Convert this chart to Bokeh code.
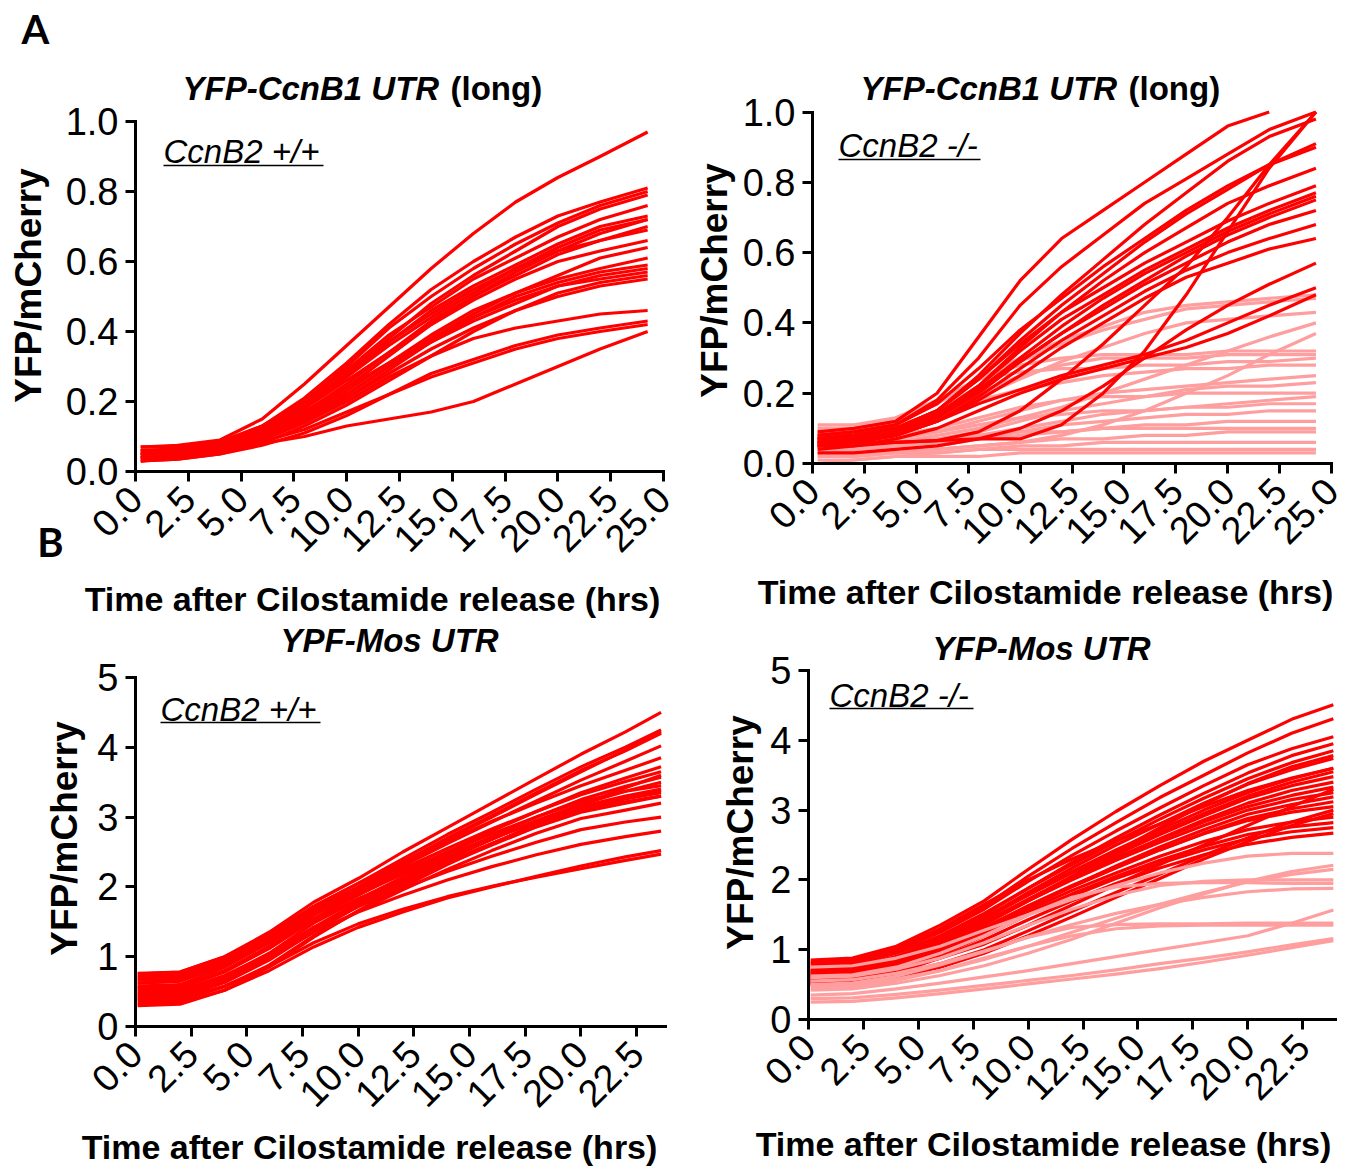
from math import pi
from bokeh.plotting import figure
from bokeh.models import Label, FixedTicker, NumeralTickFormatter, Range1d
from bokeh.layouts import row, column
from bokeh.embed import file_html
from bokeh.resources import INLINE

# ---------------- data ----------------
# Panel A: YFP-CcnB1 UTR (long)
t_ccnb1 = [0.25, 2, 4, 6, 8, 10, 12, 14, 16, 18, 20, 22, 24.25]

ccnb1_wt = [
    [0.07, 0.075, 0.09, 0.15, 0.25, 0.36, 0.47, 0.58, 0.68, 0.77, 0.84, 0.90, 0.97],
    [0.06, 0.065, 0.08, 0.13, 0.21, 0.31, 0.42, 0.52, 0.60, 0.67, 0.73, 0.77, 0.81],
    [0.05, 0.06, 0.08, 0.12, 0.20, 0.30, 0.41, 0.50, 0.58, 0.65, 0.71, 0.76, 0.80],
    [0.04, 0.05, 0.07, 0.11, 0.19, 0.28, 0.38, 0.48, 0.56, 0.63, 0.70, 0.75, 0.79],
    [0.07, 0.07, 0.085, 0.13, 0.20, 0.29, 0.39, 0.47, 0.55, 0.61, 0.67, 0.72, 0.76],
    [0.05, 0.055, 0.07, 0.11, 0.18, 0.27, 0.37, 0.46, 0.53, 0.59, 0.65, 0.70, 0.73],
    [0.06, 0.06, 0.075, 0.12, 0.19, 0.27, 0.36, 0.44, 0.51, 0.58, 0.64, 0.69, 0.72],
    [0.04, 0.045, 0.06, 0.10, 0.16, 0.24, 0.33, 0.42, 0.50, 0.57, 0.63, 0.68, 0.72],
    [0.05, 0.055, 0.07, 0.11, 0.17, 0.25, 0.34, 0.43, 0.50, 0.56, 0.62, 0.66, 0.70],
    [0.06, 0.06, 0.08, 0.12, 0.18, 0.26, 0.34, 0.42, 0.49, 0.55, 0.60, 0.63, 0.66],
    [0.03, 0.04, 0.055, 0.09, 0.15, 0.22, 0.30, 0.38, 0.45, 0.51, 0.56, 0.61, 0.64],
    [0.05, 0.05, 0.065, 0.10, 0.16, 0.23, 0.31, 0.39, 0.46, 0.51, 0.55, 0.58, 0.61],
    [0.04, 0.045, 0.06, 0.095, 0.15, 0.22, 0.30, 0.37, 0.43, 0.48, 0.53, 0.56, 0.58],
    [0.06, 0.06, 0.075, 0.11, 0.17, 0.24, 0.31, 0.38, 0.44, 0.49, 0.53, 0.55, 0.57],
    [0.03, 0.035, 0.05, 0.08, 0.13, 0.19, 0.26, 0.33, 0.40, 0.46, 0.51, 0.54, 0.56],
    [0.05, 0.05, 0.065, 0.10, 0.15, 0.21, 0.28, 0.35, 0.41, 0.46, 0.50, 0.53, 0.55],
    [0.04, 0.045, 0.06, 0.09, 0.14, 0.20, 0.27, 0.33, 0.38, 0.41, 0.43, 0.45, 0.46],
    [0.03, 0.035, 0.05, 0.075, 0.11, 0.16, 0.22, 0.28, 0.32, 0.36, 0.39, 0.41, 0.43],
    [0.05, 0.05, 0.06, 0.085, 0.12, 0.17, 0.22, 0.27, 0.31, 0.35, 0.38, 0.40, 0.42],
    [0.04, 0.04, 0.055, 0.08, 0.10, 0.13, 0.15, 0.17, 0.20, 0.25, 0.30, 0.35, 0.40],
    [0.07, 0.07, 0.085, 0.12, 0.19, 0.28, 0.37, 0.45, 0.52, 0.58, 0.63, 0.66, 0.69],
    [0.03, 0.04, 0.055, 0.09, 0.14, 0.21, 0.29, 0.37, 0.44, 0.50, 0.54, 0.57, 0.59],
]

# lines that leave the top of the plot stop where they reach 1.0
ccnb1_ko_red = [
    [0.09, 0.10, 0.12, 0.20, 0.36, 0.52, 0.64, 0.72, 0.80, 0.88, 0.96, 1.00],
    [0.08, 0.09, 0.11, 0.18, 0.30, 0.45, 0.56, 0.65, 0.74, 0.81, 0.88, 0.95, 1.00],
    [0.07, 0.08, 0.10, 0.15, 0.25, 0.37, 0.48, 0.58, 0.68, 0.77, 0.86, 0.93, 0.98],
    [0.05, 0.05, 0.06, 0.065, 0.09, 0.15, 0.24, 0.34, 0.45, 0.56, 0.70, 0.85, 1.00],
    [0.06, 0.06, 0.06, 0.065, 0.07, 0.07, 0.11, 0.20, 0.32, 0.48, 0.66, 0.84, 1.00],
    [0.07, 0.08, 0.10, 0.15, 0.24, 0.34, 0.43, 0.50, 0.57, 0.63, 0.69, 0.74, 0.79],
    [0.06, 0.07, 0.09, 0.14, 0.22, 0.32, 0.41, 0.48, 0.55, 0.61, 0.67, 0.72, 0.77],
    [0.05, 0.06, 0.08, 0.13, 0.21, 0.30, 0.39, 0.47, 0.54, 0.60, 0.66, 0.71, 0.76],
    [0.06, 0.07, 0.09, 0.13, 0.20, 0.29, 0.37, 0.45, 0.52, 0.59, 0.65, 0.70, 0.75],
    [0.07, 0.08, 0.10, 0.14, 0.21, 0.29, 0.37, 0.44, 0.51, 0.57, 0.63, 0.68, 0.72],
    [0.05, 0.06, 0.08, 0.12, 0.19, 0.27, 0.35, 0.42, 0.49, 0.55, 0.60, 0.64, 0.68],
    [0.06, 0.07, 0.08, 0.12, 0.18, 0.25, 0.33, 0.40, 0.47, 0.53, 0.57, 0.61, 0.64],
    [0.08, 0.09, 0.11, 0.17, 0.27, 0.38, 0.47, 0.56, 0.64, 0.72, 0.79, 0.85, 0.90],
    [0.07, 0.08, 0.10, 0.15, 0.24, 0.35, 0.45, 0.54, 0.63, 0.71, 0.78, 0.85, 0.91],
    [0.06, 0.07, 0.09, 0.14, 0.22, 0.33, 0.43, 0.52, 0.60, 0.67, 0.74, 0.79, 0.84],
    [0.03, 0.03, 0.04, 0.05, 0.07, 0.10, 0.15, 0.22, 0.30, 0.38, 0.45, 0.51, 0.57],
    [0.05, 0.06, 0.08, 0.12, 0.17, 0.21, 0.25, 0.28, 0.31, 0.35, 0.40, 0.45, 0.50],
    [0.04, 0.05, 0.07, 0.10, 0.15, 0.20, 0.24, 0.27, 0.30, 0.33, 0.37, 0.42, 0.48],
]

ccnb1_ko_pink = [
    [0.10, 0.10, 0.12, 0.17, 0.24, 0.30, 0.35, 0.39, 0.43, 0.45, 0.46, 0.47, 0.48],
    [0.08, 0.08, 0.10, 0.15, 0.22, 0.29, 0.34, 0.38, 0.41, 0.44, 0.45, 0.46, 0.47],
    [0.09, 0.09, 0.11, 0.14, 0.19, 0.24, 0.29, 0.33, 0.37, 0.40, 0.41, 0.42, 0.43],
    [0.05, 0.05, 0.06, 0.08, 0.10, 0.13, 0.16, 0.20, 0.24, 0.28, 0.32, 0.36, 0.40],
    [0.02, 0.02, 0.03, 0.04, 0.05, 0.06, 0.08, 0.11, 0.15, 0.20, 0.25, 0.31, 0.37],
    [0.10, 0.10, 0.12, 0.17, 0.24, 0.28, 0.30, 0.31, 0.31, 0.31, 0.32, 0.32, 0.32],
    [0.09, 0.09, 0.10, 0.14, 0.20, 0.25, 0.28, 0.30, 0.30, 0.30, 0.31, 0.31, 0.31],
    [0.11, 0.11, 0.13, 0.18, 0.24, 0.26, 0.27, 0.27, 0.28, 0.28, 0.29, 0.29, 0.30],
    [0.08, 0.08, 0.10, 0.13, 0.18, 0.21, 0.23, 0.25, 0.26, 0.27, 0.27, 0.28, 0.28],
    [0.06, 0.06, 0.07, 0.09, 0.12, 0.15, 0.18, 0.20, 0.21, 0.22, 0.23, 0.24, 0.25],
    [0.05, 0.05, 0.06, 0.07, 0.09, 0.12, 0.15, 0.17, 0.19, 0.21, 0.22, 0.22, 0.23],
    [0.07, 0.07, 0.08, 0.10, 0.13, 0.16, 0.18, 0.19, 0.19, 0.20, 0.20, 0.20, 0.20],
    [0.04, 0.04, 0.05, 0.06, 0.08, 0.10, 0.12, 0.14, 0.15, 0.16, 0.17, 0.18, 0.19],
    [0.06, 0.06, 0.07, 0.09, 0.11, 0.13, 0.14, 0.15, 0.15, 0.16, 0.16, 0.17, 0.17],
    [0.03, 0.03, 0.04, 0.05, 0.07, 0.09, 0.11, 0.12, 0.13, 0.14, 0.14, 0.15, 0.15],
    [0.05, 0.05, 0.06, 0.07, 0.08, 0.09, 0.09, 0.10, 0.10, 0.10, 0.10, 0.10, 0.10],
    [0.02, 0.02, 0.03, 0.04, 0.05, 0.06, 0.07, 0.07, 0.08, 0.08, 0.09, 0.09, 0.09],
    [0.03, 0.03, 0.03, 0.03, 0.04, 0.04, 0.04, 0.04, 0.04, 0.04, 0.04, 0.04, 0.04],
    [0.01, 0.01, 0.02, 0.02, 0.02, 0.03, 0.03, 0.03, 0.03, 0.03, 0.03, 0.03, 0.03],
    [0.00, 0.01, 0.02, 0.03, 0.04, 0.05, 0.05, 0.06, 0.06, 0.06, 0.06, 0.06, 0.06],
    [0.04, 0.04, 0.05, 0.06, 0.07, 0.08, 0.09, 0.10, 0.11, 0.11, 0.12, 0.12, 0.12],
]

# Panel B: YFP-Mos UTR
t_mos_wt = [0.1, 2, 4, 6, 8, 10, 12, 14, 16, 18, 20, 22, 23.6]
t_mos_ko = [0.1, 2, 4, 6, 8, 10, 12, 14, 16, 18, 20, 22, 23.9]

mos_wt = [
    [0.75, 0.78, 1.00, 1.35, 1.78, 2.12, 2.50, 2.85, 3.20, 3.55, 3.90, 4.22, 4.50],
    [0.70, 0.73, 0.95, 1.30, 1.72, 2.05, 2.40, 2.75, 3.07, 3.40, 3.72, 4.00, 4.25],
    [0.62, 0.65, 0.90, 1.25, 1.68, 2.00, 2.35, 2.70, 3.02, 3.35, 3.67, 3.95, 4.20],
    [0.58, 0.60, 0.85, 1.20, 1.62, 1.95, 2.30, 2.62, 2.93, 3.23, 3.53, 3.80, 4.02],
    [0.72, 0.75, 0.98, 1.32, 1.72, 2.05, 2.36, 2.65, 2.94, 3.20, 3.45, 3.67, 3.85],
    [0.52, 0.55, 0.78, 1.12, 1.55, 1.88, 2.20, 2.50, 2.80, 3.08, 3.35, 3.56, 3.72],
    [0.68, 0.70, 0.93, 1.26, 1.66, 1.97, 2.26, 2.55, 2.83, 3.08, 3.32, 3.51, 3.65],
    [0.48, 0.50, 0.72, 1.05, 1.48, 1.82, 2.14, 2.44, 2.72, 3.00, 3.25, 3.44, 3.57],
    [0.44, 0.46, 0.68, 1.00, 1.42, 1.78, 2.10, 2.40, 2.68, 2.95, 3.18, 3.37, 3.50],
    [0.62, 0.65, 0.88, 1.20, 1.60, 1.90, 2.18, 2.45, 2.70, 2.94, 3.15, 3.30, 3.40],
    [0.40, 0.42, 0.63, 0.95, 1.36, 1.72, 2.04, 2.33, 2.60, 2.86, 3.10, 3.26, 3.35],
    [0.56, 0.58, 0.80, 1.12, 1.52, 1.83, 2.10, 2.37, 2.62, 2.86, 3.07, 3.20, 3.30],
    [0.35, 0.37, 0.57, 0.88, 1.30, 1.65, 1.96, 2.25, 2.52, 2.77, 2.98, 3.10, 3.20],
    [0.50, 0.52, 0.73, 1.03, 1.42, 1.72, 1.98, 2.22, 2.44, 2.64, 2.82, 2.93, 3.00],
    [0.46, 0.48, 0.68, 0.98, 1.35, 1.64, 1.88, 2.10, 2.29, 2.46, 2.61, 2.72, 2.80],
    [0.32, 0.34, 0.52, 0.80, 1.14, 1.42, 1.64, 1.84, 2.00, 2.15, 2.30, 2.43, 2.52],
    [0.38, 0.40, 0.58, 0.86, 1.20, 1.47, 1.68, 1.86, 2.01, 2.14, 2.26, 2.38, 2.47],
    [0.66, 0.68, 0.90, 1.22, 1.62, 1.93, 2.22, 2.50, 2.76, 3.00, 3.22, 3.37, 3.45],
    [0.30, 0.32, 0.52, 0.85, 1.28, 1.66, 2.00, 2.32, 2.62, 2.90, 3.17, 3.42, 3.60],
    [0.55, 0.57, 0.80, 1.15, 1.60, 1.97, 2.33, 2.68, 3.00, 3.33, 3.65, 3.96, 4.22],
    [0.76, 0.78, 1.00, 1.30, 1.70, 1.98, 2.23, 2.47, 2.70, 2.92, 3.10, 3.22, 3.30],
    [0.42, 0.44, 0.65, 0.97, 1.38, 1.74, 2.06, 2.35, 2.62, 2.88, 3.12, 3.28, 3.38],
]

mos_ko_red = [
    [0.85, 0.88, 1.05, 1.35, 1.70, 2.15, 2.58, 2.98, 3.35, 3.70, 4.00, 4.30, 4.51],
    [0.80, 0.83, 1.00, 1.28, 1.62, 2.05, 2.45, 2.82, 3.18, 3.50, 3.82, 4.10, 4.31],
    [0.78, 0.80, 0.98, 1.25, 1.58, 1.98, 2.35, 2.70, 3.03, 3.35, 3.65, 3.88, 4.05],
    [0.70, 0.73, 0.90, 1.17, 1.50, 1.88, 2.25, 2.60, 2.93, 3.24, 3.53, 3.78, 3.95],
    [0.75, 0.78, 0.95, 1.20, 1.52, 1.88, 2.22, 2.55, 2.87, 3.17, 3.45, 3.68, 3.85],
    [0.65, 0.68, 0.85, 1.12, 1.45, 1.82, 2.17, 2.50, 2.80, 3.10, 3.37, 3.58, 3.74],
    [0.72, 0.75, 0.90, 1.15, 1.46, 1.80, 2.12, 2.43, 2.72, 3.00, 3.25, 3.45, 3.60],
    [0.60, 0.63, 0.80, 1.05, 1.37, 1.72, 2.05, 2.36, 2.65, 2.92, 3.17, 3.35, 3.48],
    [0.68, 0.70, 0.86, 1.10, 1.40, 1.72, 2.03, 2.32, 2.58, 2.83, 3.05, 3.21, 3.33],
    [0.55, 0.58, 0.73, 0.97, 1.28, 1.60, 1.91, 2.20, 2.47, 2.72, 2.94, 3.08, 3.19],
    [0.62, 0.65, 0.80, 1.03, 1.32, 1.63, 1.92, 2.18, 2.43, 2.66, 2.85, 2.97, 3.05],
    [0.58, 0.60, 0.75, 0.98, 1.27, 1.57, 1.85, 2.10, 2.34, 2.55, 2.72, 2.83, 2.90],
    [0.52, 0.55, 0.70, 0.92, 1.20, 1.50, 1.77, 2.02, 2.24, 2.43, 2.59, 2.69, 2.75],
    [0.50, 0.53, 0.67, 0.88, 1.14, 1.43, 1.70, 1.95, 2.17, 2.36, 2.51, 2.61, 2.67],
    [0.70, 0.72, 0.88, 1.12, 1.44, 1.78, 2.10, 2.40, 2.68, 2.95, 3.20, 3.40, 3.55],
    [0.63, 0.66, 0.82, 1.06, 1.37, 1.70, 2.02, 2.31, 2.59, 2.86, 3.10, 3.28, 3.40],
    [0.66, 0.69, 0.84, 1.08, 1.38, 1.70, 2.00, 2.28, 2.54, 2.78, 3.00, 3.15, 3.25],
    [0.60, 0.63, 0.78, 1.00, 1.30, 1.61, 1.90, 2.17, 2.43, 2.67, 2.88, 3.02, 3.12],
    [0.56, 0.59, 0.73, 0.95, 1.23, 1.53, 1.80, 2.05, 2.28, 2.48, 2.65, 2.76, 2.82],
    [0.55, 0.56, 0.65, 0.80, 1.00, 1.27, 1.55, 1.82, 2.08, 2.35, 2.60, 2.83, 3.00],
    [0.50, 0.52, 0.60, 0.75, 0.95, 1.20, 1.47, 1.75, 2.02, 2.30, 2.55, 2.78, 2.95],
    [0.62, 0.64, 0.72, 0.88, 1.08, 1.35, 1.64, 1.93, 2.22, 2.50, 2.78, 3.05, 3.30],
    [0.82, 0.85, 1.02, 1.30, 1.65, 2.00, 2.30, 2.56, 2.80, 3.05, 3.28, 3.46, 3.60],
    [0.68, 0.70, 0.84, 1.06, 1.36, 1.70, 2.05, 2.40, 2.75, 3.08, 3.38, 3.62, 3.78],
]

mos_ko_pink = [
    [0.75, 0.77, 0.88, 1.05, 1.28, 1.50, 1.72, 1.92, 2.10, 2.24, 2.34, 2.38, 2.38],
    [0.62, 0.64, 0.75, 0.95, 1.20, 1.50, 1.75, 1.90, 1.95, 1.96, 1.96, 1.95, 1.95],
    [0.55, 0.57, 0.66, 0.80, 0.98, 1.18, 1.36, 1.52, 1.65, 1.75, 1.83, 1.87, 1.88],
    [0.42, 0.44, 0.52, 0.63, 0.77, 0.95, 1.15, 1.38, 1.60, 1.80, 1.98, 2.12, 2.21],
    [0.48, 0.50, 0.58, 0.70, 0.86, 1.05, 1.25, 1.45, 1.65, 1.82, 1.97, 2.08, 2.15],
    [0.50, 0.52, 0.62, 0.78, 0.97, 1.18, 1.32, 1.36, 1.37, 1.37, 1.38, 1.38, 1.38],
    [0.45, 0.47, 0.56, 0.70, 0.88, 1.05, 1.20, 1.30, 1.34, 1.35, 1.35, 1.35, 1.35],
    [0.35, 0.37, 0.44, 0.52, 0.61, 0.70, 0.80, 0.90, 1.00, 1.10, 1.20, 1.38, 1.57],
    [0.30, 0.31, 0.36, 0.42, 0.49, 0.56, 0.63, 0.71, 0.80, 0.88, 0.97, 1.07, 1.16],
    [0.25, 0.26, 0.31, 0.37, 0.44, 0.51, 0.58, 0.65, 0.73, 0.82, 0.92, 1.03, 1.13],
    [0.60, 0.62, 0.72, 0.88, 1.10, 1.35, 1.58, 1.78, 1.92, 1.98, 2.00, 2.00, 2.00],
]

ticks_a_x = [0, 2.5, 5, 7.5, 10, 12.5, 15, 17.5, 20, 22.5, 25]
ticks_a_y = [0, 0.2, 0.4, 0.6, 0.8, 1.0]
ticks_b_x = [0, 2.5, 5, 7.5, 10, 12.5, 15, 17.5, 20, 22.5]
ticks_b_y = [0, 1, 2, 3, 4, 5]

RED = "#ff0000"
PINK = "#ff9e9e"
FONT = "Liberation Sans"
XTITLE = "Time after Cilostamide release (hrs)"
YTITLE = "YFP/mCherry"


class Panel:
    """One figure whose frame fills its whole canvas; axes sit at data 0."""

    def __init__(self, cx, cy, w, h, ox, oy, sx, sy, xbound, ybound,
                 xticks, yticks, yfmt):
        self.cx, self.cy, self.ox, self.oy, self.sx, self.sy = cx, cy, ox, oy, sx, sy
        xr = ((cx - ox) / sx, (cx + w - ox) / sx)
        yr = ((oy - (cy + h)) / sy, (oy - cy) / sy)
        p = figure(width=w, height=h, x_range=Range1d(*xr), y_range=Range1d(*yr),
                   output_backend="svg", toolbar_location=None, title=None,
                   min_border=0, min_border_left=0, min_border_right=0,
                   min_border_top=0, min_border_bottom=0)
        p.xgrid.visible = False
        p.ygrid.visible = False
        p.outline_line_color = None
        p.background_fill_color = "white"
        p.border_fill_color = "white"
        xa, ya = p.xaxis[0], p.yaxis[0]
        xa.fixed_location = 0
        ya.fixed_location = 0
        xa.bounds = xbound
        ya.bounds = ybound
        xa.ticker = FixedTicker(ticks=xticks)
        ya.ticker = FixedTicker(ticks=yticks)
        xa.formatter = NumeralTickFormatter(format="0.0")
        ya.formatter = NumeralTickFormatter(format=yfmt)
        for a in (xa, ya):
            a.axis_line_width = 3
            a.axis_line_color = "black"
            a.axis_line_cap = "square"
            a.major_tick_line_width = 3
            a.major_tick_line_color = "black"
            a.major_tick_out = 10
            a.major_tick_in = 0
            a.minor_tick_line_color = None
            a.major_label_text_font = FONT
            a.major_label_text_color = "black"
            a.major_label_text_font_size = "38px"
        xa.major_label_orientation = pi / 4
        xa.major_label_standoff = 11
        ya.major_label_standoff = 7
        self.p = p

    def d(self, px, py):
        return (px - self.ox) / self.sx, (self.oy - py) / self.sy

    def text(self, px, py, text, size, style, align="left", font=FONT, angle=0.0):
        x, y = self.d(px, py)
        self.p.add_layout(Label(x=x, y=y, text=text, text_font=font, text_font_size=size,
                                text_font_style=style, text_align=align,
                                text_baseline="middle", text_color="black",
                                angle=angle))

    def underline(self, px0, px1, py):
        x0, y = self.d(px0, py)
        x1, _ = self.d(px1, py)
        self.p.line([x0, x1], [y, y], line_color="black", line_width=1.5)

    def lines(self, t, series, color):
        self.p.multi_line(xs=[t[:len(s)] for s in series], ys=series, line_color=color,
                          line_width=3.2, line_join="round")


LEFT_W = 690
RIGHT_W = 659

# ---- A left: CcnB2 +/+ ----
A1 = Panel(0, 0, LEFT_W, 620, 135, 471, 21.12, 350, (0, 25), (0, 1.0),
           ticks_a_x, ticks_a_y, "0.0")
A1.lines(t_ccnb1, ccnb1_wt, RED)
A1.text(35, 28, "A", "40px", "bold", align="center", font="Lato")
A1.text(50, 541, "B", "40px", "bold", align="center", font="Lato")
A1.text(182, 88, "YFP-CcnB1 UTR", "33px", "bold italic")
A1.text(450, 88, "(long)", "33px", "bold")
A1.text(163, 151, "CcnB2 +/+", "33px", "italic")
A1.underline(163, 323, 165)
A1.text(28, 285, YTITLE, "37px", "bold", align="center", angle=pi / 2)
A1.text(372, 598, XTITLE, "34px", "bold", align="center")

# ---- A right: CcnB2 -/- ----
A2 = Panel(LEFT_W, 0, RIGHT_W, 620, 812, 463, 20.76, 351.5, (0, 25), (0, 1.0),
           ticks_a_x, ticks_a_y, "0.0")
A2.lines(t_ccnb1, ccnb1_ko_pink, PINK)
A2.lines(t_ccnb1, ccnb1_ko_red, RED)
A2.text(860, 88, "YFP-CcnB1 UTR", "33px", "bold italic")
A2.text(1128, 88, "(long)", "33px", "bold")
A2.text(838, 145, "CcnB2 -/-", "33px", "italic")
A2.underline(838, 980, 159)
A2.text(714, 280, YTITLE, "37px", "bold", align="center", angle=pi / 2)
A2.text(1045, 591, XTITLE, "34px", "bold", align="center")

# ---- B left: CcnB2 +/+ ----
B1 = Panel(0, 620, LEFT_W, 546, 135, 1026, 22.27, 69.8, (0, 23.8), (0, 5),
           ticks_b_x, ticks_b_y, "0")
B1.lines(t_mos_wt, mos_wt, RED)
B1.text(280, 640, "YPF-Mos UTR", "33px", "bold italic")
B1.text(160, 709, "CcnB2 +/+", "33px", "italic")
B1.underline(160, 320, 722)
B1.text(64, 838, YTITLE, "37px", "bold", align="center", angle=pi / 2)
B1.text(369, 1146, XTITLE, "34px", "bold", align="center")

# ---- B right: CcnB2 -/- ----
B2 = Panel(LEFT_W, 620, RIGHT_W, 546, 808, 1019, 21.96, 69.8, (0, 24), (0, 5),
           ticks_b_x, ticks_b_y, "0")
B2.lines(t_mos_ko, mos_ko_red, RED)
B2.lines(t_mos_ko, mos_ko_pink, PINK)
B2.text(932, 648, "YFP-Mos UTR", "33px", "bold italic")
B2.text(829, 695, "CcnB2 -/-", "33px", "italic")
B2.underline(829, 973, 708)
B2.text(740, 832, YTITLE, "37px", "bold", align="center", angle=pi / 2)
B2.text(1043, 1143, XTITLE, "34px", "bold", align="center")

layout = column(row(A1.p, A2.p), row(B1.p, B2.p))

open("out.html", "w").write(file_html(layout, INLINE))
